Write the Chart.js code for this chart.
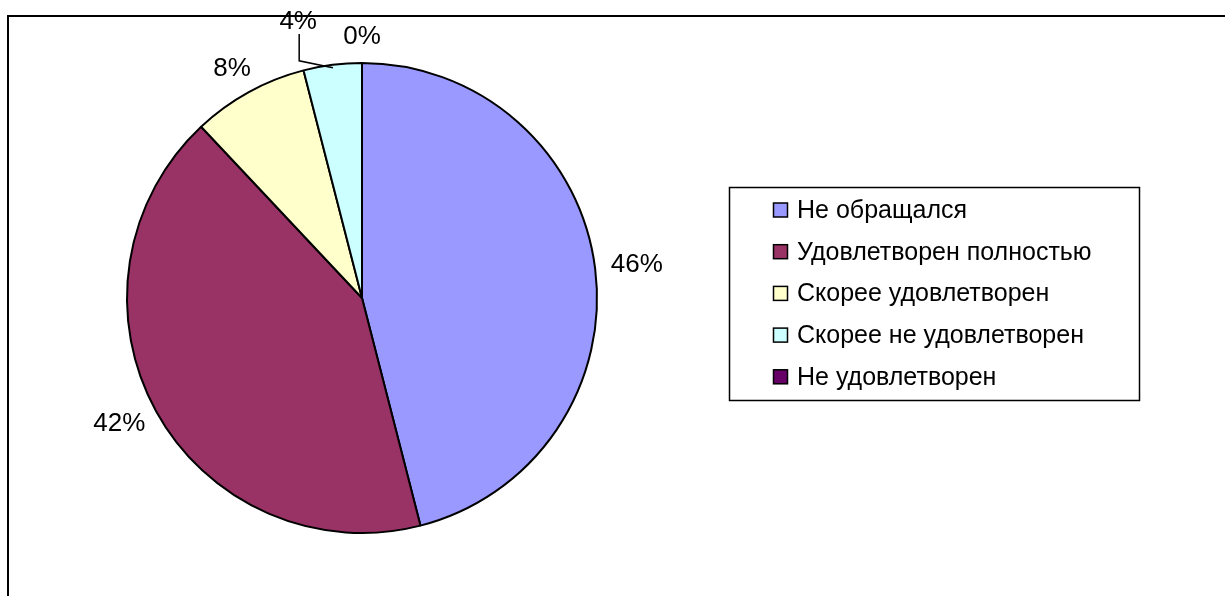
<!DOCTYPE html>
<html lang="ru">
<head>
    <meta charset="UTF-8">
    <title>Удовлетворенность</title>
    <script src="https://cdn.jsdelivr.net/npm/chart.js"></script>
    <style>
        html, body { margin: 0; padding: 0; background: #fff; }
        #wrap { width: 1225px; height: 596px; position: relative; }
    </style>
</head>
<body>
    <div id="wrap">
        <canvas id="pieChart"></canvas>
    </div>

    <script>
        // данные диаграммы
        const categories = ['Не обращался', 'Удовлетворен полностью', 'Скорее удовлетворен', 'Скорее не удовлетворен', 'Не удовлетворен'];
        const values = [46, 42, 8, 4, 0];
        const colors = ['#9999FF', '#993366', '#FFFFCC', '#CCFFFF', '#660066'];

        const labelFont = '26px "Liberation Sans", Arial, sans-serif';
        const legendFont = '25px "Liberation Sans", Arial, sans-serif';

        // рамка области диаграммы
        const framePlugin = {
            id: 'frame',
            beforeDraw(chart) {
                const ctx = chart.ctx;
                ctx.save();
                ctx.fillStyle = '#000';
                ctx.fillRect(7, 15, 2, chart.height);
                ctx.fillRect(7, 15, chart.width, 2);
                ctx.restore();
            }
        };

        // подписи процентов снаружи секторов
        const pctPlugin = {
            id: 'pct',
            afterDatasetsDraw(chart, args, opts) {
                const ctx = chart.ctx;
                const meta = chart.getDatasetMeta(0);
                const data = chart.data.datasets[0].data;
                const total = data.reduce((a, b) => a + b, 0);
                ctx.save();
                ctx.font = labelFont;
                ctx.fillStyle = '#000';
                ctx.textAlign = 'center';
                ctx.textBaseline = 'middle';
                meta.data.forEach((arc, i) => {
                    const p = arc.getProps(['x', 'y', 'startAngle', 'endAngle', 'outerRadius'], true);
                    const mid = (p.startAngle + p.endAngle) / 2;
                    const c = Math.cos(mid), s = Math.sin(mid);
                    const txt = Math.round(data[i] / total * 100) + '%';
                    const w = ctx.measureText(txt).width;
                    const h = 20;
                    const R = p.outerRadius + opts.gap;
                    let lx = p.x + c * R + c * w / 2;
                    let ly = p.y + s * R + s * h / 2;
                    const n = opts.nudge[i];
                    if (n) {
                        lx += n[0];
                        ly += n[1];
                        const ax = p.x + c * (p.outerRadius - 3);
                        const ay = p.y + s * (p.outerRadius - 3);
                        ctx.beginPath();
                        ctx.lineWidth = 1.5;
                        ctx.strokeStyle = '#000';
                        ctx.moveTo(lx + 1, ly + 12);
                        ctx.lineTo(lx + 1, ay - 7);
                        ctx.lineTo(ax, ay);
                        ctx.stroke();
                    }
                    ctx.fillText(txt, lx, ly);
                });
                ctx.restore();
            }
        };

        // легенда в рамке справа
        const boxLegendPlugin = {
            id: 'boxLegend',
            afterDraw(chart) {
                const ctx = chart.ctx;
                const ds = chart.data.datasets[0];
                ctx.save();
                ctx.lineWidth = 1.5;
                ctx.strokeStyle = '#000';
                ctx.strokeRect(729.5, 187.5, 410, 213);
                ctx.font = legendFont;
                ctx.textBaseline = 'middle';
                ctx.textAlign = 'left';
                chart.data.labels.forEach((lab, i) => {
                    const y = 210 + i * 41.7;
                    ctx.fillStyle = ds.backgroundColor[i];
                    ctx.fillRect(773.5, y - 7, 14, 14);
                    ctx.lineWidth = 1.5;
                    ctx.strokeRect(773.5, y - 7, 14, 14);
                    ctx.fillStyle = '#000';
                    ctx.fillText(lab, 797, y + 1);
                });
                ctx.restore();
            }
        };

        new Chart(document.getElementById('pieChart'), {
            type: 'pie',
            data: {
                labels: categories,
                datasets: [{
                    data: values,
                    backgroundColor: colors,
                    borderColor: '#000',
                    borderWidth: 2
                }]
            },
            options: {
                responsive: true,
                maintainAspectRatio: false,
                animation: false,
                layout: {
                    padding: { left: 126, right: 627, top: 62, bottom: 62 }
                },
                plugins: {
                    legend: { display: false },
                    tooltip: { enabled: false },
                    pct: { gap: 16, nudge: [null, null, null, [-30, -17], null] }
                }
            },
            plugins: [framePlugin, pctPlugin, boxLegendPlugin]
        });
    </script>
</body>
</html>
